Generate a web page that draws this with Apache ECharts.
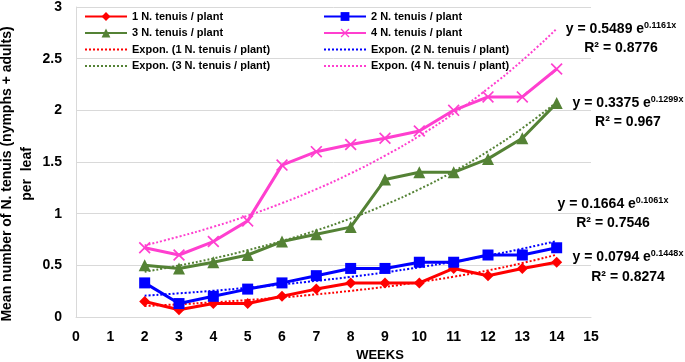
<!DOCTYPE html>
<html>
<head>
<meta charset="utf-8">
<script src="https://cdn.jsdelivr.net/npm/echarts@6/dist/echarts.min.js"></script>
<style>
  html, body { margin: 0; padding: 0; background: #fff; }
  #chart { width: 685px; height: 362px; }
</style>
</head>
<body>
<div id="chart"></div>
<script>
const weeks = [2, 3, 4, 5, 6, 7, 8, 9, 10, 11, 12, 13, 14]
const seriesNames = ['1 N. tenuis / plant', '2 N. tenuis / plant', '3 N. tenuis / plant', '4 N. tenuis / plant']
const n1 = [0.15, 0.07, 0.13, 0.13, 0.2, 0.27, 0.33, 0.33, 0.33, 0.47, 0.4, 0.47, 0.53]
const n2 = [0.33, 0.13, 0.2, 0.27, 0.33, 0.4, 0.47, 0.47, 0.53, 0.53, 0.6, 0.6, 0.67]
const n3 = [0.5, 0.47, 0.53, 0.6, 0.73, 0.8, 0.87, 1.33, 1.4, 1.4, 1.53, 1.73, 2.07]
const n4 = [0.67, 0.6, 0.73, 0.93, 1.47, 1.6, 1.67, 1.73, 1.8, 2.0, 2.13, 2.13, 2.4]

// exponential trend lines, values at each week
const trend1 = [0.106, 0.123, 0.142, 0.164, 0.189, 0.219, 0.253, 0.292, 0.338, 0.390, 0.451, 0.522, 0.603]
const trend2 = [0.206, 0.229, 0.254, 0.283, 0.315, 0.350, 0.389, 0.432, 0.481, 0.535, 0.594, 0.661, 0.735]
const trend3 = [0.438, 0.498, 0.567, 0.646, 0.736, 0.838, 0.954, 1.086, 1.237, 1.409, 1.604, 1.827, 2.080]
const trend4 = [0.692, 0.778, 0.873, 0.981, 1.102, 1.237, 1.390, 1.561, 1.753, 1.969, 2.211, 2.483, 2.789]

const eqCoef = ['0.0794', '0.1664', '0.3375', '0.5489']
const eqExp = ['0.1448x', '0.1061x', '0.1299x', '0.1161x']
const rSquared = ['0.8274', '0.7546', '0.967', '0.8776']

const colors = ['#ff0000', '#0000ff', '#548235', '#ff3fcf']
const symbols = ['diamond', 'rect', 'triangle',
  'path://M0,1 L1,0 L5,4 L9,0 L10,1 L6,5 L10,9 L9,10 L5,6 L1,10 L0,9 L4,5 Z']
const symbolSizes = [11, 11, 12, 12]
// annotation placement: [center x, equation y, R² y]
const eqPos = [[628, 257, 277], [613, 204, 223], [628, 103, 122], [621, 29, 48]]

const font = 'Liberation Sans, Arial, sans-serif'
const values = [n1, n2, n3, n4]
const trends = [trend1, trend2, trend3, trend4]

const pairs = arr => weeks.map((w, i) => [w, arr[i]])
const trendName = i => 'Expon. (' + seriesNames[i] + ')'

const dataSeries = values.map((v, i) => ({
  name: seriesNames[i],
  type: 'line',
  data: pairs(v),
  symbol: symbols[i],
  symbolSize: symbolSizes[i],
  showAllSymbol: true,
  lineStyle: { color: colors[i], width: 3 },
  itemStyle: { color: colors[i] },
  z: 3
}))

const trendSeries = trends.map((t, i) => ({
  name: trendName(i),
  type: 'line',
  data: pairs(t),
  smooth: true,
  symbol: 'none',
  lineStyle: { color: colors[i], width: 2, type: 'dotted' },
  itemStyle: { color: colors[i] },
  z: 2
}))

const legendBase = {
  orient: 'vertical',
  top: 6,
  itemWidth: 42,
  itemHeight: 11,
  itemGap: 5.5,
  textStyle: { fontFamily: font, fontWeight: 'bold', fontSize: 11, color: '#000', lineHeight: 11 },
  selectedMode: false
}

// dotted trend entries: line only, no marker
const trendLegendItem = i => ({ name: trendName(i), itemStyle: { opacity: 0 } })

const annotations = []
eqPos.forEach((p, i) => {
  annotations.push({
    type: 'text',
    x: p[0], y: p[1],
    style: {
      text: '{m|y = ' + eqCoef[i] + ' e}{s|' + eqExp[i] + '}',
      align: 'center',
      verticalAlign: 'middle',
      rich: {
        m: { fontFamily: font, fontWeight: 'bold', fontSize: 14, fill: '#000', lineHeight: 16 },
        s: { fontFamily: font, fontWeight: 'bold', fontSize: 9, fill: '#000', verticalAlign: 'top', lineHeight: 16 }
      }
    }
  })
  annotations.push({
    type: 'text',
    x: p[0], y: p[2],
    style: {
      text: 'R² = ' + rSquared[i],
      align: 'center',
      verticalAlign: 'middle',
      fontFamily: font, fontWeight: 'bold', fontSize: 14, fill: '#000'
    }
  })
})

const chart = echarts.init(document.getElementById('chart'))
chart.setOption({
  animation: false,
  backgroundColor: '#fff',
  grid: { left: 76, right: 94, top: 6, bottom: 45 },
  legend: [
    Object.assign({}, legendBase, {
      left: 79,
      data: [seriesNames[0], seriesNames[2], trendLegendItem(0), trendLegendItem(2)]
    }),
    Object.assign({}, legendBase, {
      left: 318,
      data: [seriesNames[1], seriesNames[3], trendLegendItem(1), trendLegendItem(3)]
    })
  ],
  xAxis: {
    type: 'value',
    min: 0,
    max: 15,
    interval: 1,
    axisLine: { show: true, lineStyle: { color: '#d9d9d9', width: 1 } },
    axisTick: { show: false },
    splitLine: { show: false },
    axisLabel: { fontFamily: font, fontWeight: 'bold', fontSize: 14, color: '#000', margin: 13 }
  },
  yAxis: {
    type: 'value',
    min: 0,
    max: 3,
    interval: 0.5,
    axisLine: { show: true, lineStyle: { color: '#d9d9d9', width: 1 } },
    axisTick: { show: false },
    splitLine: { lineStyle: { color: '#d9d9d9', width: 1 } },
    axisLabel: { fontFamily: font, fontWeight: 'bold', fontSize: 14, color: '#000', margin: 14 }
  },
  graphic: [
    {
      type: 'text',
      x: 17, y: 174,
      rotation: Math.PI / 2,
      style: {
        text: 'Mean number of N. tenuis (nymphs + adults)\nper  leaf',
        align: 'center',
        verticalAlign: 'middle',
        fontFamily: font, fontWeight: 'bold', fontSize: 14, lineHeight: 20, fill: '#000'
      }
    },
    {
      type: 'text',
      x: 380, y: 355,
      style: {
        text: 'WEEKS',
        align: 'center',
        verticalAlign: 'middle',
        fontFamily: font, fontWeight: 'bold', fontSize: 13, fill: '#000'
      }
    }
  ].concat(annotations),
  series: dataSeries.concat(trendSeries)
})
</script>
</body>
</html>
